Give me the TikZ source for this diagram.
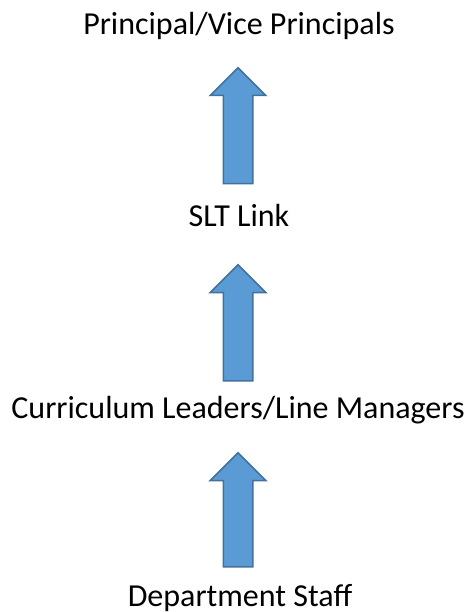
\documentclass[tikz,border=0pt]{standalone}
\usepackage{fontspec}
\setmainfont{Carlito}
\usetikzlibrary{shapes.arrows}

\definecolor{arrowfill}{HTML}{5B9BD5}
\definecolor{arrowline}{HTML}{41719C}

\begin{document}
\begin{tikzpicture}[
    x=1pt, y=-1pt,
    level/.style={anchor=base, inner sep=0pt, font=\fontsize{32}{38}\selectfont},
    uparrow/.style={single arrow, rotate=90, anchor=tail, fill=arrowfill, draw=arrowline,
      line width=1.5pt, inner xsep=0pt, inner ysep=14pt, minimum height=116pt,
      single arrow head extend=13pt, single arrow tip angle=90}]

    \useasboundingbox (0,0) rectangle (467,612);

    \node[level] (top) at (239,35) {Principal/Vice Principals};
    \node[uparrow] (a1) at (238,184.5) {};

    \node[level] (slt) at (239,226) {SLT Link};
    \node[uparrow] (a2) at (238,381.5) {};

    \node[level] (cl) at (238,418) {Curriculum Leaders/Line Managers};
    \node[uparrow, minimum height=114pt] (a3) at (238,567.5) {};

    \node[level] (staff) at (240,606) {Department Staff};
  \end{tikzpicture}
\end{document}
